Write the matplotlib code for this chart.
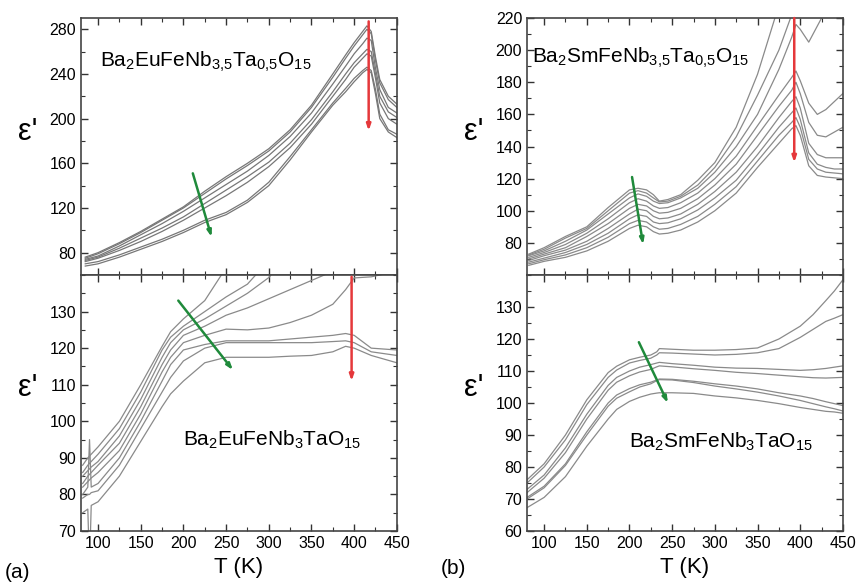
import numpy as np
import matplotlib
matplotlib.use('Agg')
import matplotlib.pyplot as plt
from matplotlib.ticker import MultipleLocator

plt.rcParams['font.family'] = ['Liberation Sans', 'DejaVu Sans']
plt.rcParams['mathtext.fontset'] = 'custom'
plt.rcParams['mathtext.rm'] = 'Liberation Sans'
plt.rcParams['mathtext.default'] = 'regular'

#################################################
# (a) top : Ba2EuFeNb3.5Ta0.5O15
T_a_top = [85, 100, 125, 150, 175, 200, 225, 250, 275, 300, 325, 350, 375, 390, 400, 410, 415, 420, 425, 430, 440, 450]
eps_a_top_1 = [76, 80, 89, 99, 110, 121, 135, 148, 160, 173, 190, 212, 240, 257, 268, 278, 283, 278, 255, 235, 220, 213]
eps_a_top_2 = [75, 79, 88, 98, 109, 120, 133, 146, 158, 171, 188, 210, 237, 254, 265, 275, 280, 276, 252, 232, 217, 210]
eps_a_top_3 = [74, 77, 86, 96, 106, 117, 129, 141, 153, 167, 184, 205, 231, 247, 258, 267, 272, 270, 245, 226, 210, 205]
eps_a_top_4 = [73, 76, 84, 93, 102, 112, 124, 136, 148, 161, 178, 199, 224, 240, 250, 258, 262, 260, 240, 220, 206, 201]
eps_a_top_5 = [72, 75, 82, 90, 99, 109, 120, 131, 143, 157, 174, 195, 220, 235, 246, 254, 258, 256, 236, 214, 200, 195]
eps_a_top_6 = [70, 72, 78, 85, 92, 100, 109, 116, 127, 143, 166, 190, 214, 227, 236, 243, 246, 243, 226, 204, 190, 186]
eps_a_top_7 = [68, 70, 76, 83, 90, 98, 107, 114, 125, 140, 163, 188, 212, 224, 233, 241, 244, 241, 222, 200, 188, 183]

# (a) bottom : Ba2EuFeNb3TaO15
T_a_bot = [82, 88, 90, 92, 100, 125, 150, 175, 185, 200, 225, 250, 275, 300, 325, 350, 375, 390, 400, 420, 450]
eps_a_bot_1 = [75, 76, 60, 77, 78, 85, 94.5, 104, 107.5, 111, 116, 117.5, 117.5, 117.5, 117.8, 118, 119, 120.5, 120, 118, 116]
eps_a_bot_2 = [79, 80, 80, 80.5, 81, 88, 98, 108, 112, 116.5, 120, 121.5, 121.5, 121.5, 121.5, 121.5, 121.8, 122, 121.5, 119, 118]
eps_a_bot_3 = [80, 82, 95, 82, 83, 90, 100, 111, 115.5, 119.5, 121, 122, 122, 122, 122.5, 123, 123.5, 124, 123.5, 120, 119.5]
eps_a_bot_4 = [82, 83.5, 84, 84.5, 86, 92, 102, 113.5, 117.5, 121.5, 123.5, 125.2, 125, 125.5, 127, 129, 132, 136, 139.2, 139.5, 141]
eps_a_bot_5 = [83, 85, 85.5, 86, 88, 94, 104, 115.5, 119.5, 123.5, 126, 129, 131, 133.5, 136, 138.5, 141, 143, 145, 148, 152]
eps_a_bot_6 = [85, 86.5, 87, 87.5, 89, 96, 106, 117.5, 121.5, 125, 128, 131.5, 135, 139.3, 146, 153, 160, 165, 168, 175, 185]
eps_a_bot_7 = [86, 88, 88.5, 89, 91, 98, 108, 119.5, 123, 126, 130, 134, 137.5, 144, 152, 160, 168, 173, 177, 185, 195]
eps_a_bot_8 = [88, 90, 90.5, 91, 93, 100, 110, 120.5, 124.5, 128, 133, 142, 150, 158, 166, 175, 185, 190, 195, 205, 220]

# (b) top : Ba2SmFeNb3.5Ta0.5O15
T_b_top = [82, 100, 125, 150, 175, 200, 210, 220, 228, 235, 245, 260, 280, 300, 325, 350, 375, 390, 395, 400, 410, 420, 430, 440, 450]
eps_b_top_1 = [73, 77, 84, 90, 102, 113, 114, 113, 110, 106, 107, 110, 119, 130, 152, 185, 228, 250, 260, 265, 270, 275, 280, 285, 290]
eps_b_top_2 = [72.5, 76, 83, 89, 100, 111, 112.5, 111, 108, 105.5, 106, 109, 116, 127, 146, 172, 200, 222, 232, 238, 245, 250, 255, 260, 265]
eps_b_top_3 = [72, 75, 81, 88, 98, 108, 110.5, 109, 106, 104.5, 105, 108, 114, 124, 140, 160, 188, 208, 216, 213, 205, 215, 225, 235, 245]
eps_b_top_4 = [71, 74, 79, 86, 95, 105, 107.5, 106, 103, 101.5, 102, 105, 111, 120, 134, 153, 172, 183, 187, 181, 167, 160, 163, 168, 173]
eps_b_top_5 = [70, 73, 77, 84, 92, 101.5, 104, 103, 100, 98.5, 99, 101.5, 107.5, 116, 129, 147, 165, 175, 180, 173, 155, 147, 146, 149, 152]
eps_b_top_6 = [69, 72, 75.5, 81, 89, 98, 101, 100, 96.5, 95, 95.5, 98, 104, 112, 124, 140, 158, 168, 171, 164, 142, 135, 133, 133, 133]
eps_b_top_7 = [68, 70.5, 74, 79, 86, 95, 97.5, 96.5, 93, 92, 92.5, 95, 100.5, 108, 119, 135, 152, 161, 164, 157, 136, 129, 127, 126, 126]
eps_b_top_8 = [67, 69.5, 72.5, 77, 83.5, 92, 94, 93, 90, 88.5, 89, 91.5, 96.5, 104, 115, 131, 147, 155, 158, 152, 132, 126, 124, 123.5, 123]
eps_b_top_9 = [66, 68.5, 71, 75, 81, 89, 91, 90, 87, 85.5, 86, 88, 93, 100, 111, 127, 142, 151, 153, 147, 128, 122, 121, 120.5, 120]

# (b) bottom : Ba2SmFeNb3TaO15
T_b_bot = [80, 100, 125, 150, 175, 185, 200, 212, 225, 232, 235, 250, 275, 300, 325, 350, 375, 400, 415, 430, 440, 450]
eps_b_bot_1 = [76, 81, 90, 101, 109.5, 111.5, 113.5, 114.3, 115, 116, 117, 116.8, 116.5, 116.5, 116.7, 117.2, 120, 124, 127.6, 132, 135, 138.5]
eps_b_bot_2 = [75, 80, 88.5, 99.5, 108, 110.3, 112.5, 113.3, 114, 115, 115.7, 115.6, 115.3, 115, 115.2, 115.7, 117, 120.5, 123, 125.5, 126.5, 127.6]
eps_b_bot_3 = [73, 77.5, 86, 96.5, 105.5, 108, 110, 111.2, 112, 112.5, 112.7, 112.3, 111.8, 111.2, 110.9, 110.8, 110.5, 110.2, 110.4, 110.8, 111.2, 111.6]
eps_b_bot_4 = [72, 76.5, 84.5, 95, 104, 106.5, 108.5, 109.7, 110.5, 111.3, 111.6, 111.3, 110.7, 110.2, 109.6, 109.2, 108.7, 108.2, 107.9, 107.8, 107.9, 108]
eps_b_bot_5 = [70.5, 74, 81, 91, 100, 102.5, 104.5, 105.7, 106.5, 107.2, 107.5, 107.4, 106.8, 106, 105.3, 104.4, 103.2, 102.2, 101.4, 100.4, 99.8, 99.2]
eps_b_bot_6 = [70, 73.5, 80.5, 90, 99, 101.5, 103.5, 105, 106, 107, 107.3, 107.2, 106.4, 105.3, 104.4, 103.4, 102.2, 100.8, 99.8, 98.8, 98.2, 97.5]
eps_b_bot_7 = [67.3, 70.5, 77, 86.5, 95, 98, 100.5, 101.8, 102.8, 103.1, 103.2, 103.2, 103, 102.2, 101.6, 100.8, 99.8, 98.6, 98, 97.4, 97.2, 96.8]

#################################################
line_col = '#8a8a8a'
green = '#1f8a3b'
red = '#e5383b'

fig = plt.figure(figsize=(8.56, 5.82), dpi=100)
ax_at = fig.add_axes([0.0946, 0.5275, 0.369, 0.4415])
ax_ab = fig.add_axes([0.0946, 0.0876, 0.369, 0.4399])
ax_bt = fig.add_axes([0.6157, 0.5275, 0.369, 0.4415])
ax_bb = fig.add_axes([0.6157, 0.0876, 0.369, 0.4399])

for e in [eps_a_top_1, eps_a_top_2, eps_a_top_3, eps_a_top_4, eps_a_top_5, eps_a_top_6, eps_a_top_7]:
    ax_at.plot(T_a_top, e, color='#777777', lw=0.9)
for e in [eps_a_bot_1, eps_a_bot_2, eps_a_bot_3, eps_a_bot_4, eps_a_bot_5, eps_a_bot_6, eps_a_bot_7, eps_a_bot_8]:
    ax_ab.plot(T_a_bot, e, color=line_col, lw=0.9)
for e in [eps_b_top_1, eps_b_top_2, eps_b_top_3, eps_b_top_4, eps_b_top_5, eps_b_top_6, eps_b_top_7, eps_b_top_8, eps_b_top_9]:
    ax_bt.plot(T_b_top, e, color=line_col, lw=0.9)
for e in [eps_b_bot_1, eps_b_bot_2, eps_b_bot_3, eps_b_bot_4, eps_b_bot_5, eps_b_bot_6, eps_b_bot_7]:
    ax_bb.plot(T_b_bot, e, color=line_col, lw=0.9)

# limits / ticks
ax_at.set_ylim(60, 290); ax_at.set_yticks(np.arange(80, 281, 40)); ax_at.yaxis.set_minor_locator(MultipleLocator(20))
ax_ab.set_ylim(70, 140); ax_ab.set_yticks(np.arange(70, 131, 10)); ax_ab.yaxis.set_minor_locator(MultipleLocator(5))
ax_bt.set_ylim(60, 220); ax_bt.set_yticks(np.arange(80, 221, 20)); ax_bt.yaxis.set_minor_locator(MultipleLocator(10))
ax_bb.set_ylim(60, 140); ax_bb.set_yticks(np.arange(60, 131, 10)); ax_bb.yaxis.set_minor_locator(MultipleLocator(5))

for ax in [ax_at, ax_ab, ax_bt, ax_bb]:
    ax.set_xlim(80, 450)
    ax.set_xticks(np.arange(100, 451, 50))
    ax.xaxis.set_minor_locator(MultipleLocator(25))
    ax.tick_params(which='both', direction='in', top=True, right=True, labelsize=11.5, color='#333333')
    ax.tick_params(which='major', length=5, width=1)
    ax.tick_params(which='minor', length=3, width=0.8)
    for s in ax.spines.values():
        s.set_color('#444444')
        s.set_linewidth(1.2)
    ax.set_ylabel("ε'", rotation=0, fontsize=22)
    ax.yaxis.set_label_coords(-0.17, 0.5)
for ax in [ax_at, ax_bt]:
    ax.tick_params(labelbottom=False)

# arrows
arr = dict(arrowstyle='-|>,head_length=0.35,head_width=0.12', lw=1.8, shrinkA=0, shrinkB=0)
ax_at.annotate('', xy=(233, 94), xytext=(211, 151), arrowprops=dict(color=green, **arr))
ax_at.annotate('', xy=(417, 189), xytext=(417, 287), arrowprops=dict(color=red, **arr))
ax_ab.annotate('', xy=(258, 114), xytext=(194, 133), arrowprops=dict(color=green, **arr))
ax_ab.annotate('', xy=(397, 111), xytext=(397, 139.5), arrowprops=dict(color=red, **arr))
ax_bt.annotate('', xy=(216, 79), xytext=(203, 121), arrowprops=dict(color=green, **arr))
ax_bt.annotate('', xy=(393, 130), xytext=(393, 220), arrowprops=dict(color=red, **arr))
ax_bb.annotate('', xy=(245, 100), xytext=(211, 119), arrowprops=dict(color=green, **arr))

# compositions
ax_at.text(102, 251, r'Ba$_2$EuFeNb$_{3{,}5}$Ta$_{0{,}5}$O$_{15}$', fontsize=15, ha='left', va='center')
ax_ab.text(199, 95, r'Ba$_2$EuFeNb$_3$TaO$_{15}$', fontsize=15, ha='left', va='center')
ax_bt.text(86, 195, r'Ba$_2$SmFeNb$_{3{,}5}$Ta$_{0{,}5}$O$_{15}$', fontsize=15, ha='left', va='center')
ax_bb.text(199, 88, r'Ba$_2$SmFeNb$_3$TaO$_{15}$', fontsize=15, ha='left', va='center')

fig.text(239 / 856, 1 - 568 / 582, 'T (K)', fontsize=16, ha='center', va='center')
fig.text(685 / 856, 1 - 568 / 582, 'T (K)', fontsize=16, ha='center', va='center')
fig.text(18 / 856, 1 - 572 / 582, '(a)', fontsize=15, ha='center', va='center')
fig.text(453 / 856, 1 - 568 / 582, '(b)', fontsize=15, ha='center', va='center')

fig.savefig('out.png', dpi=100)
